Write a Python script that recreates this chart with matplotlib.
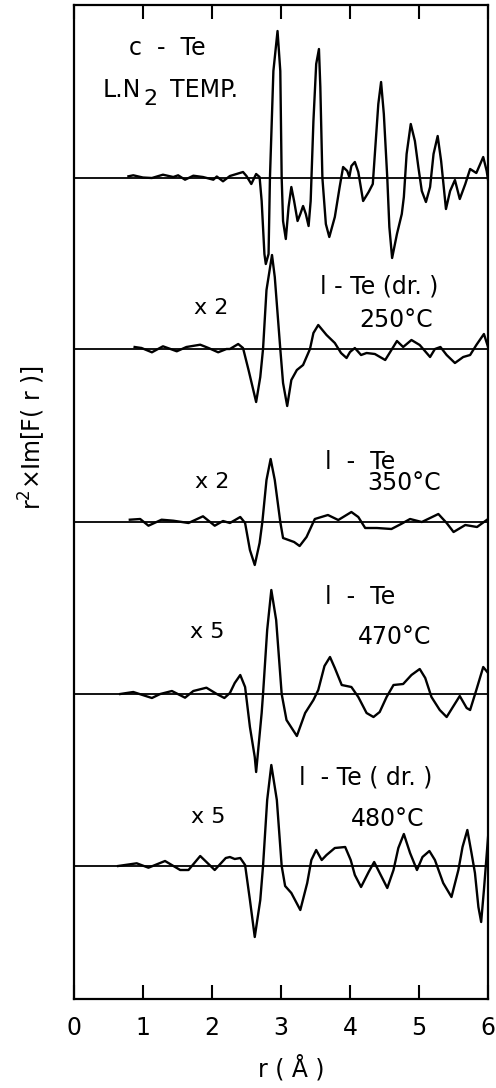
import numpy as np
import matplotlib
matplotlib.use("Agg")
import matplotlib.pyplot as plt

plt.rcParams['font.family'] = ['DejaVu Sans']

# r in Angstrom, amplitude in arbitrary units (upward positive) about each baseline
r_cte = [0.79, 0.86, 1.00, 1.13, 1.29, 1.44, 1.51, 1.61, 1.73, 1.87, 2.02, 2.07, 2.16, 2.26,
         2.45, 2.50, 2.57, 2.64, 2.69, 2.72, 2.76, 2.78, 2.82, 2.84, 2.89, 2.95, 2.99, 3.01,
         3.03, 3.07, 3.11, 3.15, 3.19, 3.24, 3.28, 3.32, 3.36, 3.40, 3.43, 3.47, 3.51, 3.55,
         3.57, 3.60, 3.65, 3.70, 3.78, 3.85, 3.90, 3.96, 3.99, 4.02, 4.07, 4.12, 4.19, 4.27,
         4.33, 4.36, 4.41, 4.45, 4.49, 4.54, 4.57, 4.61, 4.68, 4.75, 4.78, 4.82, 4.88, 4.94,
         4.99, 5.04, 5.10, 5.16, 5.21, 5.27, 5.32, 5.39, 5.45, 5.52, 5.59, 5.67, 5.74, 5.83,
         5.93, 5.98, 6.00]
a_cte = [1.7, 2.7, 0.5, 0.0, 3.3, 1.0, 2.7, -1.7, 2.3, 1.0, -1.7, 1.5, -3.3, 2.0,
         6, 2, -6, 4, 1, -23, -76, -86, -76, 0, 107, 147, 107, 0,
         -43, -61, -29, -9, -23, -43, -36, -28, -36, -48, -23, 57, 114, 129,
         91, 0, -46, -59, -39, -9, 11, 7, 1, 12, 16, 6, -23, -14,
         -6, 24, 74, 96, 64, 0, -49, -80, -56, -36, -19, 24, 54, 37,
         11, -13, -24, -9, 24, 42, 17, -31, -13, -2, -21, -6, 9, 5,
         21, 7, -2]

r_250 = [0.88, 0.98, 1.13, 1.29, 1.40, 1.49, 1.63, 1.83, 1.95, 2.09, 2.21, 2.26, 2.38,
         2.45, 2.53, 2.64, 2.70, 2.74, 2.79, 2.87, 2.91, 2.99, 3.03, 3.09, 3.15, 3.23,
         3.32, 3.42, 3.47, 3.54, 3.66, 3.78, 3.87, 3.95, 4.00, 4.07, 4.16, 4.24, 4.36,
         4.51, 4.60, 4.68, 4.77, 4.89, 5.01, 5.16, 5.23, 5.31, 5.40, 5.52, 5.64, 5.74,
         5.83, 5.94, 6.00]
a_250 = [2.0, 1.0, -3.3, 2.7, 0.0, -2.3, 2.0, 4.3, 1.0, -3.3, 0.0, 0.0, 5,
         1, -21, -53, -28, 0, 59, 94, 72, 0, -34, -57, -31, -21,
         -16, 0, 16, 24, 14, 6, -4, -9, -3, 1, -6, -4, -5,
         -11, -1, 8, 2, 9, 4, -8, 0, 2, -6, -14, -8, -6,
         4, 15, 2]

r_350 = [0.81, 0.96, 1.08, 1.27, 1.44, 1.66, 1.87, 2.04, 2.16, 2.26, 2.41, 2.48, 2.55,
         2.62, 2.69, 2.73, 2.79, 2.85, 2.91, 2.99, 3.03, 3.11, 3.19, 3.27, 3.37, 3.49,
         3.68, 3.83, 4.02, 4.12, 4.22, 4.39, 4.60, 4.74, 4.87, 5.04, 5.28, 5.40, 5.50,
         5.67, 5.84, 5.98]
a_350 = [2.3, 3.0, -3.7, 2.3, 1.3, -1.0, 5.7, -3.7, 1.0, -1.0, 5, -1, -28,
         -43, -21, 0, 42, 63, 42, 0, -16, -18, -20, -24, -15, 3,
         7, 2, 10, 5, -6, -6, -7, -2, 3, 0, 8, -1, -10,
         -3, -5, 2]

r_470 = [0.67, 0.86, 1.13, 1.25, 1.42, 1.61, 1.73, 1.92, 2.07, 2.18, 2.26, 2.33, 2.41,
         2.48, 2.55, 2.62, 2.64, 2.72, 2.74, 2.80, 2.86, 2.93, 3.01, 3.08, 3.23, 3.35,
         3.47, 3.54, 3.63, 3.71, 3.78, 3.88, 4.02, 4.12, 4.24, 4.34, 4.43, 4.53, 4.63,
         4.77, 4.89, 5.01, 5.09, 5.18, 5.30, 5.40, 5.49, 5.59, 5.69, 5.74, 5.83, 5.93,
         6.00]
a_470 = [0.0, 2.0, -4.0, 0.0, 3.0, -3.7, 3.0, 6.3, 0.0, -4.0, 1, 11, 19,
         7, -33, -63, -78, -19, 0, 64, 104, 74, 0, -26, -42, -19,
         -6, 4, 28, 37, 26, 9, 7, -3, -19, -23, -18, -3, 9,
         10, 19, 25, 16, -3, -16, -23, -13, -2, -14, -16, 4, 27,
         21]

r_480 = [0.64, 0.91, 1.08, 1.32, 1.54, 1.66, 1.83, 2.04, 2.20, 2.26, 2.33, 2.41, 2.48,
         2.55, 2.62, 2.70, 2.74, 2.80, 2.86, 2.94, 3.01, 3.06, 3.15, 3.28, 3.38, 3.44,
         3.51, 3.59, 3.66, 3.78, 3.93, 4.01, 4.07, 4.16, 4.27, 4.35, 4.43, 4.54, 4.63,
         4.70, 4.78, 4.87, 4.97, 5.05, 5.15, 5.23, 5.35, 5.47, 5.57, 5.63, 5.70, 5.76,
         5.81, 5.86, 5.90, 5.94, 6.00]
a_480 = [0.0, 2.7, -1.7, 5.0, -4.0, -4.0, 10.0, -4.0, 8.0, 9, 7, 8, 1,
         -34, -71, -34, 0, 66, 101, 66, 0, -20, -27, -44, -17, 6,
         16, 6, 11, 18, 19, 6, -9, -21, -6, 4, -7, -22, -4,
         18, 32, 13, -4, 9, 15, 6, -17, -31, -4, 19, 36, 13,
         -7, -41, -56, -24, 29]

r_traces = [r_cte, r_250, r_350, r_470, r_480]
a_traces = [a_cte, a_250, a_350, a_470, a_480]
baselines = [821, 650, 477, 305, 133]

# annotations: (text, r, y, fontsize)
labels = [
    ("c  -  Te", 1.36, 951, 17),
    ("x 2", 1.99, 691, 16),
    ("l - Te (dr. )", 4.42, 713, 17),
    ("250°C", 4.67, 679, 17),
    ("l  -  Te", 4.14, 537, 17),
    ("x 2", 2.00, 517, 16),
    ("350°C", 4.78, 516, 17),
    ("l  -  Te", 4.14, 402, 17),
    ("x 5", 1.93, 367, 16),
    ("470°C", 4.65, 362, 17),
    ("l  - Te ( dr. )", 4.23, 222, 17),
    ("x 5", 1.94, 182, 16),
    ("480°C", 4.55, 180, 17),
]

fig = plt.figure(figsize=(4.96, 10.88), dpi=100)
ax = fig.add_axes([0.149, 0.0818, 0.835, 0.9136])

for r, a, b in zip(r_traces, a_traces, baselines):
    ax.axhline(b, color='black', lw=1.3)
    ax.plot(r, np.array(a) + b, color='black', lw=1.7, solid_joinstyle='round')

for txt, x, y, fs in labels:
    ax.text(x, y, txt, fontsize=fs, ha='center', va='center')

# "L.N2 TEMP." with a full-size lowered 2
ax.text(0.42, 909, "L.N", fontsize=17, ha='left', va='center')
ax.text(1.00, 900, "2", fontsize=16, ha='left', va='center')
ax.text(1.39, 909, "TEMP.", fontsize=17, ha='left', va='center')

ax.set_xlim(0, 6)
ax.set_ylim(0, 994)
ax.set_yticks([])
ax.set_xticks(range(7))
ax.tick_params(axis='x', direction='in', top=True, length=10, width=1.5,
               labelsize=17, pad=12)
for s in ax.spines.values():
    s.set_linewidth(1.6)

fig.text(291 / 496, 1 - 1068 / 1088, "r ( Å )", fontsize=17, ha='center', va='center')
fig.text(32 / 496, 1 - 438 / 1088, "r$^2$×Im[F( r )]", fontsize=17, rotation=90,
         ha='center', va='center')

fig.savefig("out.png", dpi=100)
